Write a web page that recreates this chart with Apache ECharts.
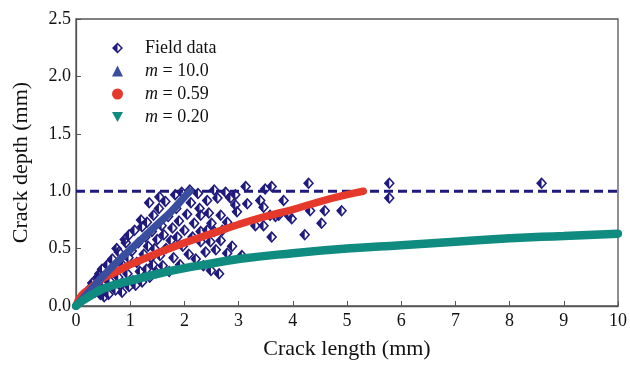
<!DOCTYPE html>
<html>
<head>
<meta charset="utf-8">
<script src="https://cdn.jsdelivr.net/npm/echarts@6/dist/echarts.min.js"></script>
<style>
html,body{margin:0;padding:0;background:#fff;}
#chart{width:630px;height:365px;}
</style>
</head>
<body>
<div id="chart"></div>
<script>
// Field data (crack length mm, crack depth mm)
var fieldLength = [0.12,0.2,0.25,0.3,0.35,0.4,0.43,0.45,0.5,0.52,0.48,
  0.58,0.6,0.62,0.67,0.7,0.73,0.75,0.78,0.79,0.82,0.85,0.87,0.9,0.92,0.95,0.98,0.98,0.97,
  1.03,1.05,1.08,1.1,1.12,1.15,1.18,1.2,1.22,1.22,1.25,1.28,1.3,1.31,1.33,1.35,1.36,1.38,1.4,1.42,1.43,1.45,1.48,1.5,
  1.53,1.54,1.55,1.58,1.6,1.62,1.65,1.66,1.7,1.72,1.75,1.78,1.8,1.83,1.85,1.87,1.9,1.92,1.95,1.97,2.0,
  2.05,2.08,2.1,2.12,2.15,2.18,2.21,2.25,2.28,2.3,2.3,2.3,2.35,2.39,2.42,2.42,2.45,2.48,2.49,2.5,
  2.55,2.55,2.58,2.61,2.64,2.67,2.67,2.7,2.76,2.79,2.79,2.85,2.88,2.94,2.94,2.97,
  3.06,3.13,3.16,3.31,3.4,3.46,3.46,3.49,
  3.58,3.61,3.61,3.68,3.74,3.83,3.92,3.98,
  4.22,4.29,4.32,4.53,4.59,4.9,
  5.78,5.78,8.59];
var fieldDepth = [0.08,0.1,0.15,0.2,0.12,0.25,0.28,0.1,0.18,0.08,0.32,
  0.36,0.1,0.22,0.41,0.3,0.14,0.5,0.25,0.47,0.18,0.12,0.35,0.58,0.55,0.28,0.62,0.17,0.42,
  0.48,0.22,0.66,0.18,0.38,0.55,0.3,0.75,0.69,0.21,0.45,0.6,0.32,0.73,0.52,0.9,0.25,0.42,0.65,0.36,0.79,0.5,0.29,0.58,
  0.85,0.95,0.44,0.7,0.35,0.62,0.91,0.5,0.78,0.3,0.57,0.68,0.42,0.97,0.85,0.6,0.74,0.36,0.99,0.52,0.66,
  0.8,0.45,1.01,0.9,0.6,0.72,0.41,0.98,0.85,0.79,0.65,0.56,0.35,0.47,0.92,0.66,0.81,0.56,0.31,0.72,
  1.01,0.65,0.49,0.94,0.28,0.79,0.57,0.66,0.99,0.73,0.46,0.94,0.52,0.97,0.88,0.82,
  0.44,1.04,0.89,0.7,0.92,0.86,0.7,1.02,
  0.79,1.04,0.6,0.78,0.79,0.92,0.79,0.76,
  0.62,1.07,0.83,0.72,0.83,0.83,
  1.07,0.94,1.07];

// Model curves
var m10Length  = [0,0.25,0.5,0.75,1,1.25,1.5,1.75,2,2.1];
var m10Depth   = [0,0.13,0.26,0.38,0.49,0.6,0.71,0.82,0.95,1.0];
var m059Length = [0,0.1,0.25,0.5,0.75,1,1.5,2,2.5,3,3.5,4,4.5,5,5.3];
var m059Depth  = [0,0.09,0.15,0.24,0.3,0.36,0.46,0.55,0.63,0.71,0.78,0.84,0.91,0.97,1.0];
var m020Length = [0,0.1,0.2,0.3,0.5,0.75,1,1.5,2,2.5,3,4,5,6,7,8,9,10];
var m020Depth  = [0,0.04,0.07,0.1,0.15,0.19,0.22,0.28,0.33,0.37,0.41,0.46,0.5,0.53,0.56,0.59,0.61,0.63];

// Reference (dashed) line
var refLength = [0,10];
var refDepth  = [1.0,1.0];

var seriesNames = ['Field data','m = 10.0','m = 0.59','m = 0.20'];

function pairs(xs, ys){ return xs.map(function(x,i){ return [x, ys[i]]; }); }

var FONT = '"Liberation Serif","Times New Roman",serif';
var NAVY = '#1f1a7c';
var BLUE = '#3a4ea0';
var RED = '#e5392c';
var TEAL = '#0f8b80';
var halfDiamond = 'path://M5,0 L10,5 L5,10 L0,5 Z M5,1.9 L1.9,5 L5,8.1 L8.1,5 Z M5,1.9 L5,8.1 L1.9,5 Z';

var chart = echarts.init(document.getElementById('chart'));
chart.setOption({
  animation: false,
  backgroundColor: '#fff',
  grid: {left: 76, right: 8, top: 19, bottom: 59, show: true, borderColor: '#555', borderWidth: 1.3},
  xAxis: {
    type: 'value', min: 0, max: 10, interval: 1,
    name: 'Crack length (mm)', nameLocation: 'middle', nameGap: 32,
    nameTextStyle: {fontFamily: FONT, fontSize: 22, color: '#111'},
    axisLine: {show: true, lineStyle: {color: '#555', width: 1.3}},
    axisTick: {show: true, inside: true, length: 5, lineStyle: {color: '#555'}},
    axisLabel: {fontFamily: FONT, fontSize: 18, color: '#111', margin: 6},
    splitLine: {show: false}
  },
  yAxis: {
    type: 'value', min: 0, max: 2.5, interval: 0.5,
    name: 'Crack depth (mm)', nameLocation: 'middle', nameGap: 44,
    nameTextStyle: {fontFamily: FONT, fontSize: 22, color: '#111'},
    axisLine: {show: true, lineStyle: {color: '#555', width: 1.3}},
    axisTick: {show: true, inside: true, length: 5, lineStyle: {color: '#555'}},
    axisLabel: {fontFamily: FONT, fontSize: 18, color: '#111', margin: 5,
      formatter: function(v){ return v.toFixed(1); }},
    splitLine: {show: false}
  },
  legend: {
    orient: 'vertical', left: 107, top: 33, itemWidth: 11, itemHeight: 11, itemGap: 3,
    itemStyle: {borderWidth: 0},
    data: [
      {name: seriesNames[0], icon: halfDiamond},
      {name: seriesNames[1], icon: 'triangle'},
      {name: seriesNames[2], icon: 'circle'},
      {name: seriesNames[3], icon: 'path://M0,0 L10,0 L5,9 Z'}
    ],
    formatter: function(name){
      if (name.charAt(0) === 'm') return '{s|}{i|m}{t|' + name.slice(1) + '}';
      return '{s|}{t|' + name + '}';
    },
    textStyle: {
      fontFamily: FONT, fontSize: 18, color: '#111', lineHeight: 20,
      rich: {
        s: {width: 17},
        i: {fontFamily: FONT, fontSize: 18, fontStyle: 'italic', color: '#111'},
        t: {fontFamily: FONT, fontSize: 18, color: '#111'}
      }
    }
  },
  series: [
    {
      name: 'ref', type: 'line', data: pairs(refLength, refDepth), showSymbol: false, silent: true,
      lineStyle: {color: NAVY, width: 3, type: [9, 5]}, z: 1
    },
    {
      name: seriesNames[0], type: 'scatter', data: pairs(fieldLength, fieldDepth),
      symbol: halfDiamond, symbolSize: [11, 12],
      itemStyle: {color: NAVY, opacity: 1}, z: 2
    },
    {
      name: seriesNames[1], type: 'line', data: pairs(m10Length, m10Depth), showSymbol: false, smooth: true,
      color: BLUE, lineStyle: {color: BLUE, width: 7.5, cap: 'round'}, itemStyle: {color: BLUE}, z: 4
    },
    {
      name: seriesNames[2], type: 'line', data: pairs(m059Length, m059Depth), showSymbol: false, smooth: true,
      color: RED, lineStyle: {color: RED, width: 7.5, cap: 'round'}, itemStyle: {color: RED}, z: 3
    },
    {
      name: seriesNames[3], type: 'line', data: pairs(m020Length, m020Depth), showSymbol: false, smooth: true,
      color: TEAL, lineStyle: {color: TEAL, width: 8.5, cap: 'round'}, itemStyle: {color: TEAL}, z: 5
    }
  ]
});
</script>
</body>
</html>
